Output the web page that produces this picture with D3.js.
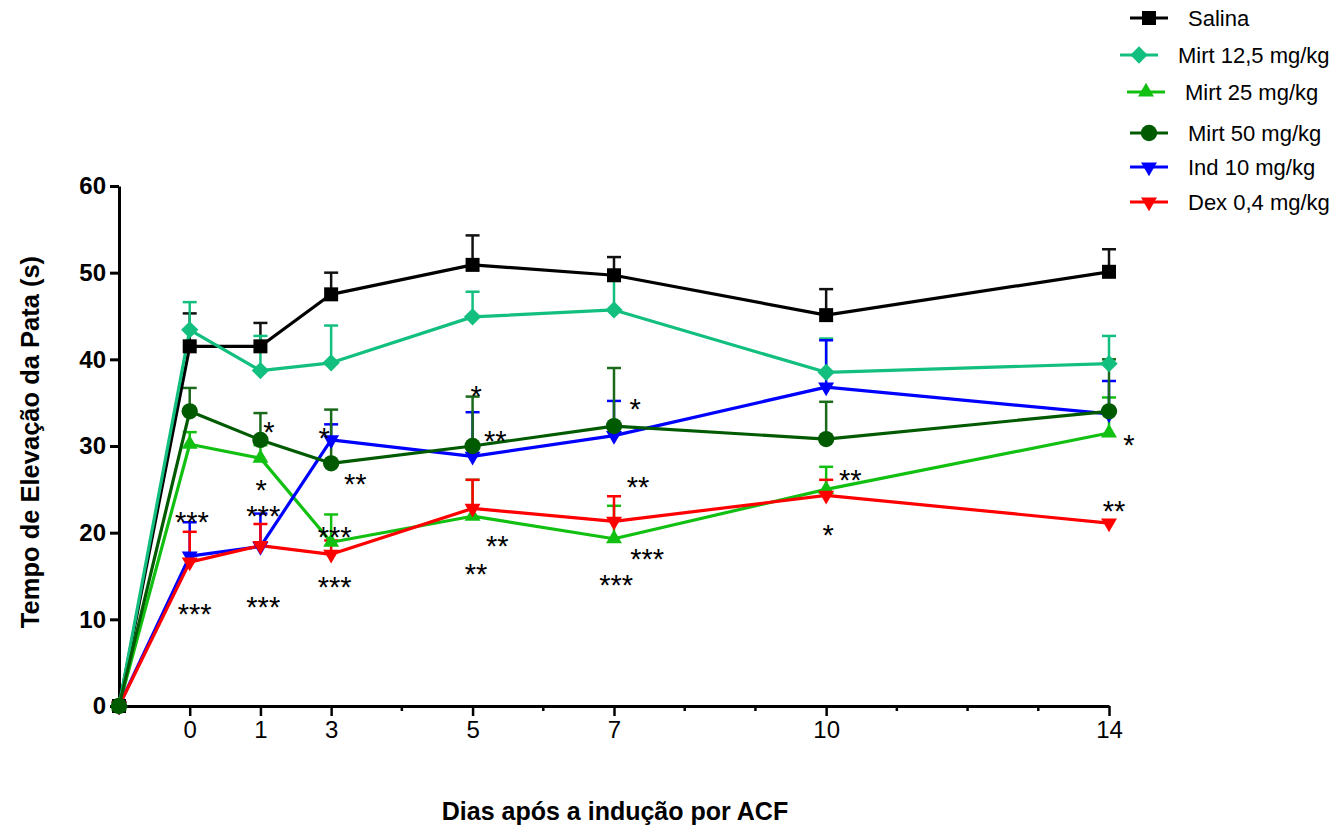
<!DOCTYPE html>
<html>
<head>
<meta charset="utf-8">
<script src="https://cdn.jsdelivr.net/npm/d3@7"></script>
<style>
  body { margin: 0; background: #fff; }
</style>
</head>
<body>
<div id="container"></div>
<script>
// svg size
const width = 1342;
const height = 831;

// plot area (axis frame)
const plotLeft = 119;
const plotRight = 1109;
const plotTop = 186;
const plotBottom = 706;

const fontFamily = "'Liberation Sans', Arial, Helvetica, sans-serif";
const sigFontSize = 29;

// ---- data ----
// x positions on the (evenly spaced) axis and the labels shown there
const xPositions = [-1, 0, 1, 2, 4, 6, 9, 13];
const dayLabels = ["0", "1", "3", "5", "7", "10", "14"];
const labelPositions = [0, 1, 2, 4, 6, 9, 13];
const minorPositions = [3, 5, 7, 8, 10, 11, 12];
const yTicks = [0, 10, 20, 30, 40, 50, 60];

const seriesNames = ["Salina", "Mirt 12,5 mg/kg", "Mirt 25 mg/kg", "Mirt 50 mg/kg", "Ind 10 mg/kg", "Dex 0,4 mg/kg"];

const salina   = [0, 41.5, 41.5, 47.5, 50.9, 49.7, 45.1, 50.1];
const salinaSem = [0, 3.8, 2.7, 2.5, 3.4, 2.1, 3.0, 2.6];
const mirt125  = [0, 43.4, 38.7, 39.6, 44.9, 45.7, 38.5, 39.5];
const mirt125Sem = [0, 3.2, 4.0, 4.3, 2.9, 3.5, 3.9, 3.2];
const mirt25   = [0, 30.2, 28.6, 18.9, 21.9, 19.3, 25.0, 31.5];
const mirt25Sem = [0, 1.4, 1.5, 3.2, 4.2, 3.8, 2.6, 4.1];
const mirt50   = [0, 34.0, 30.7, 28.0, 30.0, 32.3, 30.8, 34.0];
const mirt50Sem = [0, 2.7, 3.1, 6.2, 5.7, 6.7, 4.3, 6.0];
const ind10    = [0, 17.3, 18.4, 30.7, 28.8, 31.2, 36.8, 33.7];
const ind10Sem = [0, 3.9, 3.8, 1.8, 5.1, 4.0, 5.4, 3.8];
const dex04    = [0, 16.6, 18.5, 17.5, 22.8, 21.3, 24.3, 21.1];
const dex04Sem = [0, 3.5, 2.5, 1.6, 3.3, 2.9, 1.8, 0];

// significance marks: x (axis units), y (value), text
const sigX    = [0.03, 0.07, 1.01, 1.04, 1.04, 1.12, 1.90, 2.34, 2.05, 2.05, 4.05, 4.32, 4.35, 4.05, 6.30, 6.34, 6.47, 6.03, 9.34, 9.03, 13.28, 13.07];
const sigY    = [22.0, 11.4, 25.7, 22.7, 12.2, 32.4, 31.7, 26.4, 20.3, 14.5, 36.6, 31.4, 19.3, 16.0, 35.1, 26.1, 17.7, 14.7, 26.9, 20.5, 30.9, 23.3];
const sigText = ["***", "***", "*", "***", "***", "*", "*", "**", "***", "***", "*", "**", "**", "**", "*", "**", "***", "***", "**", "*", "*", "**"];

// ---- styles ----
const colors = ["#000000", "#12bf7f", "#12c012", "#005a00", "#0000ff", "#ff0000"];
const errColors = ["#111111", "#12bf7f", "#12c012", "#1a6a1a", "#0000ff", "#ff0000"];
const shapes = ["square", "diamond", "triUp", "circle", "triDown", "triDown"];
const seriesValues = [salina, mirt125, mirt25, mirt50, ind10, dex04];
const seriesSems = [salinaSem, mirt125Sem, mirt25Sem, mirt50Sem, ind10Sem, dex04Sem];
const drawOrder = [0, 1, 2, 4, 5, 3];

// legend layout (rows are a bit irregular in the original)
const legendRowY = [18, 55, 92, 133, 167, 202];
const legendLineX = [1130, 1120, 1127, 1130, 1130, 1130];

const svg = d3.select("#container").append("svg")
    .attr("width", width)
    .attr("height", height)
    .attr("font-family", fontFamily);

const x = d3.scaleLinear().domain([-1, 13]).range([plotLeft, plotRight]);
const y = d3.scaleLinear().domain([0, 60]).range([plotBottom, plotTop]);

function markerPath(shape) {
    if (shape == "square") return d3.symbol(d3.symbolSquare, 196)();
    if (shape == "diamond") return d3.symbol(d3.symbolSquare, 150)();
    if (shape == "circle") return d3.symbol(d3.symbolCircle, 210)();
    return d3.symbol(d3.symbolTriangle, 110)();
}
function markerRotate(shape) {
    if (shape == "diamond") return 45;
    if (shape == "triDown") return 180;
    return 0;
}

// ---- axes ----
const yAxis = svg.append("g")
    .attr("transform", `translate(${plotLeft},0)`)
    .call(d3.axisLeft(y).tickValues(yTicks).tickSize(9).tickPadding(4).tickSizeOuter(0));
yAxis.select(".domain").attr("stroke-width", 3);
yAxis.selectAll(".tick line").attr("stroke-width", 3);
yAxis.selectAll(".tick text")
    .attr("font-size", 24)
    .attr("font-weight", "bold")
    .attr("font-family", fontFamily)
    .attr("fill", "#000");

const xAxis = svg.append("g")
    .attr("transform", `translate(0,${plotBottom})`)
    .call(d3.axisBottom(x).tickValues(labelPositions)
        .tickFormat((d, i) => dayLabels[i]).tickSize(10).tickPadding(5).tickSizeOuter(0));
xAxis.select(".domain").attr("stroke-width", 3);
xAxis.selectAll(".tick line").attr("stroke-width", 2.5);
xAxis.selectAll(".tick text")
    .attr("font-size", 24)
    .attr("font-family", fontFamily)
    .attr("fill", "#000");

xAxis.selectAll("line.minor")
    .data(minorPositions)
    .join("line")
    .attr("class", "minor")
    .attr("x1", d => x(d)).attr("x2", d => x(d))
    .attr("y1", 0).attr("y2", 5)
    .attr("stroke", "#000")
    .attr("stroke-width", 2.5);

// axis titles
svg.append("text")
    .attr("x", 615)
    .attr("y", 820)
    .attr("text-anchor", "middle")
    .attr("font-size", 25)
    .attr("font-weight", "bold")
    .text("Dias após a indução por ACF");

svg.append("text")
    .attr("transform", `translate(39,${442}) rotate(-90)`)
    .attr("text-anchor", "middle")
    .attr("font-size", 25.5)
    .attr("font-weight", "bold")
    .text("Tempo de Elevação da Pata (s)");

// ---- series ----
const line = d3.line()
    .x((d, i) => x(xPositions[i]))
    .y(d => y(d));

const plot = svg.append("g");

// error bars (upper only)
drawOrder.forEach(s => {
    const g = plot.append("g").attr("stroke", errColors[s]).attr("stroke-width", 2.5);
    const pts = seriesValues[s].map((v, i) => ({ x: xPositions[i], v: v, e: seriesSems[s][i] }))
        .filter(d => d.e > 0);
    g.selectAll("line.bar").data(pts).join("line")
        .attr("class", "bar")
        .attr("x1", d => x(d.x)).attr("x2", d => x(d.x))
        .attr("y1", d => y(d.v)).attr("y2", d => y(d.v + d.e));
    g.selectAll("line.cap").data(pts).join("line")
        .attr("class", "cap")
        .attr("x1", d => x(d.x) - 7).attr("x2", d => x(d.x) + 7)
        .attr("y1", d => y(d.v + d.e)).attr("y2", d => y(d.v + d.e));
});

drawOrder.forEach(s => {
    plot.append("path")
        .datum(seriesValues[s])
        .attr("fill", "none")
        .attr("stroke", colors[s])
        .attr("stroke-width", 3.2)
        .attr("stroke-linejoin", "round")
        .attr("d", line);
});

drawOrder.forEach(s => {
    plot.append("g").selectAll("path")
        .data(seriesValues[s])
        .join("path")
        .attr("d", markerPath(shapes[s]))
        .attr("fill", colors[s])
        .attr("transform", (d, i) => `translate(${x(xPositions[i])},${y(d)}) rotate(${markerRotate(shapes[s])})`);
});

// significance marks
svg.append("g").selectAll("text")
    .data(sigText)
    .join("text")
    .attr("x", (d, i) => x(sigX[i]))
    .attr("y", (d, i) => y(sigY[i]) + sigFontSize * 0.58)
    .attr("text-anchor", "middle")
    .attr("font-size", sigFontSize)
    .attr("fill", "#000")
    .text(d => d);

// ---- legend ----
const legend = svg.append("g");
seriesNames.forEach((name, s) => {
    const g = legend.append("g").attr("transform", `translate(${legendLineX[s]},${legendRowY[s]})`);
    g.append("line")
        .attr("x1", 0).attr("x2", 38)
        .attr("stroke", colors[s]).attr("stroke-width", 3);
    g.append("path")
        .attr("d", markerPath(shapes[s]))
        .attr("fill", colors[s])
        .attr("transform", `translate(19,0) rotate(${markerRotate(shapes[s])})`);
    g.append("text")
        .attr("x", 58)
        .attr("y", 8)
        .attr("font-size", 22)
        .attr("fill", "#000")
        .text(name);
});
</script>
</body>
</html>
